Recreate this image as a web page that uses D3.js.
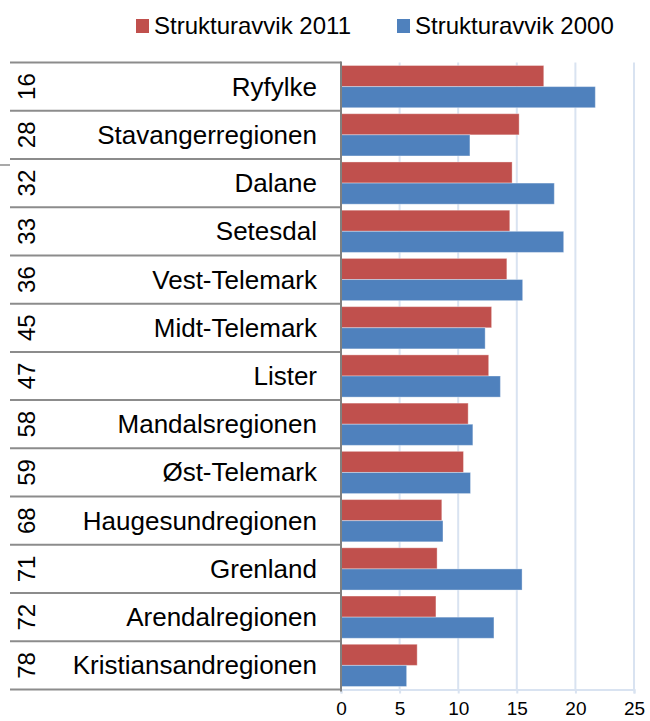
<!DOCTYPE html>
<html>
<head>
<meta charset="utf-8">
<script src="https://cdn.jsdelivr.net/npm/d3@7"></script>
<style>
    body { margin: 0; background: white; }
    text { font-family: "Liberation Sans", Arial, sans-serif; }
</style>
</head>
<body>
<svg id="chart"></svg>
<script>
var ranks = ["16", "28", "32", "33", "36", "45", "47", "58", "59", "68", "71", "72", "78"]
var regions = ["Ryfylke", "Stavangerregionen", "Dalane", "Setesdal", "Vest-Telemark", "Midt-Telemark",
               "Lister", "Mandalsregionen", "Øst-Telemark", "Haugesundregionen", "Grenland",
               "Arendalregionen", "Kristiansandregionen"]
var avvik2011 = [17.3, 15.2, 14.6, 14.4, 14.15, 12.85, 12.6, 10.85, 10.45, 8.6, 8.2, 8.1, 6.5]
var avvik2000 = [21.7, 11.0, 18.2, 19.0, 15.5, 12.3, 13.6, 11.25, 11.05, 8.7, 15.45, 13.05, 5.6]
var seriesNames = ["Strukturavvik 2011", "Strukturavvik 2000"]
var seriesColors = ["#c0504d", "#4f81bd"]
var xTicks = [0, 5, 10, 15, 20, 25]

var svg_dimensions = {
    width: 650,
    height: 721,
    margin: {
        top: 62.5,
        bottom: 32,
        left: 341,
        right: 16
    }
}

var rows = regions.map(function(r, i) {
    return {rank: ranks[i], region: r, values: [avvik2011[i], avvik2000[i]]}
})

var svg = d3.select("#chart")
            .attr("width", svg_dimensions.width)
            .attr("height", svg_dimensions.height)

var xScale = d3.scaleLinear()
               .domain([0, 25])
               .range([svg_dimensions.margin.left, 634])

var yScale = d3.scaleBand()
               .domain(regions)
               .range([svg_dimensions.margin.top, svg_dimensions.height - svg_dimensions.margin.bottom + 0.5])

var innerScale = d3.scaleBand()
                   .domain([0, 1])
                   .range([3, yScale.bandwidth() - 3])

var plotBottom = yScale.range()[1]

// gridlines
svg.append("g")
   .selectAll("line")
   .data(xTicks.slice(1))
   .enter()
   .append("line")
   .attr("x1", d => xScale(d))
   .attr("x2", d => xScale(d))
   .attr("y1", svg_dimensions.margin.top)
   .attr("y2", plotBottom)
   .attr("stroke", "#d9e3f1")
   .attr("stroke-width", 2)

// bottom axis
var xAxisGen = d3.axisBottom().scale(xScale).tickValues(xTicks).tickSize(4).tickPadding(8)

var xAxis = svg.append("g")
               .call(xAxisGen)
               .attr("transform", `translate(0,${plotBottom})`)

xAxis.select(".domain").attr("stroke", "#d9e3f1").attr("stroke-width", 2)
xAxis.selectAll(".tick line").attr("stroke", "#d9e3f1").attr("stroke-width", 2)
xAxis.selectAll(".tick text")
     .attr("font-size", "19px")
     .attr("fill", "black")
     .style("font-family", "'Liberation Sans', Arial, sans-serif")

// bars
var groups = svg.append("g")
                .selectAll("g")
                .data(rows)
                .enter()
                .append("g")
                .attr("transform", d => `translate(0,${yScale(d.region)})`)

groups.selectAll("rect")
      .data(d => d.values)
      .enter()
      .append("rect")
      .attr("x", xScale(0))
      .attr("y", (d, i) => innerScale(i))
      .attr("width", d => xScale(d) - xScale(0))
      .attr("height", innerScale.bandwidth())
      .attr("fill", (d, i) => seriesColors[i])
      .attr("stroke", "rgba(255,255,255,0.35)")
      .attr("stroke-width", 1)

// table rows on the left
var rowLines = svg.append("g")
                  .selectAll("line")
                  .data(regions.concat(["end"]))
                  .enter()
                  .append("line")
                  .attr("x1", 10)
                  .attr("x2", svg_dimensions.margin.left)
                  .attr("y1", (d, i) => svg_dimensions.margin.top + i * yScale.bandwidth())
                  .attr("y2", (d, i) => svg_dimensions.margin.top + i * yScale.bandwidth())
                  .attr("stroke", "#8c8c8c")
                  .attr("stroke-width", 2)

// stray mark at the left edge
svg.append("line")
   .attr("x1", 0)
   .attr("x2", 10)
   .attr("y1", 165)
   .attr("y2", 165)
   .attr("stroke", "#8c8c8c")
   .attr("stroke-width", 1.5)

// vertical axis line
svg.append("line")
   .attr("x1", xScale(0))
   .attr("x2", xScale(0))
   .attr("y1", svg_dimensions.margin.top - 1)
   .attr("y2", plotBottom + 2)
   .attr("stroke", "#808080")
   .attr("stroke-width", 2)

var regionLabels = svg.append("g")
                      .selectAll("text")
                      .data(rows)
                      .enter()
                      .append("text")
                      .attr("x", 317)
                      .attr("y", d => yScale(d.region) + yScale.bandwidth() / 2 + 9)
                      .attr("text-anchor", "end")
                      .attr("font-size", "26px")
                      .attr("fill", "black")
                      .text(d => d.region)

var rankLabels = svg.append("g")
                    .selectAll("text")
                    .data(rows)
                    .enter()
                    .append("text")
                    .attr("transform", d => `translate(35,${yScale(d.region) + yScale.bandwidth() / 2}) rotate(-90)`)
                    .attr("text-anchor", "middle")
                    .attr("font-size", "24px")
                    .attr("fill", "black")
                    .text(d => d.rank)

// legend
var legendX = [136, 397]

var legend = svg.append("g")
                .selectAll("g")
                .data(seriesNames)
                .enter()
                .append("g")
                .attr("transform", (d, i) => `translate(${legendX[i]},0)`)

legend.append("rect")
      .attr("x", 0)
      .attr("y", 19)
      .attr("width", 13)
      .attr("height", 14)
      .attr("fill", (d, i) => seriesColors[i])

legend.append("text")
      .attr("x", 18)
      .attr("y", 34)
      .attr("font-size", "24px")
      .attr("fill", "black")
      .text(d => d)
</script>
</body>
</html>
